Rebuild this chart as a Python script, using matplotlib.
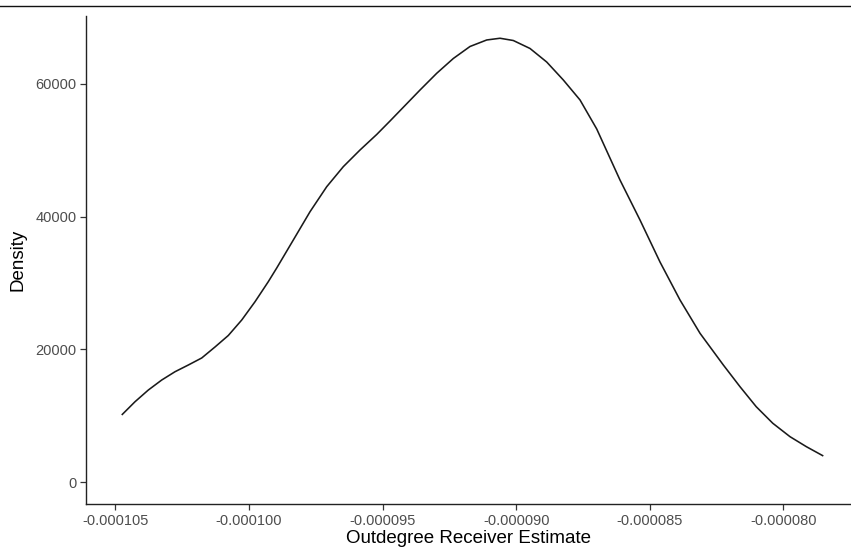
import matplotlib.pyplot as plt
from matplotlib.lines import Line2D

plt.rcParams['font.family'] = ['Liberation Sans', 'DejaVu Sans']

# kernel density estimate of the outdegree receiver coefficient
estimate = [-1.04764e-4, -1.04266e-4, -1.03769e-4, -1.03267e-4, -1.02769e-4,
            -1.02272e-4, -1.01770e-4, -1.01272e-4, -1.00775e-4, -1.00273e-4,
            -9.9775e-5, -9.9278e-5, -9.8963e-5, -9.8342e-5, -9.7717e-5,
            -9.7092e-5, -9.6471e-5, -9.5846e-5, -9.5221e-5, -9.4723e-5,
            -9.3600e-5, -9.2975e-5, -9.2354e-5, -9.1729e-5,
            -9.1104e-5, -9.0606e-5, -9.0109e-5, -8.9484e-5, -8.8859e-5,
            -8.8237e-5, -8.7612e-5, -8.6987e-5, -8.6116e-5, -8.5367e-5,
            -8.4618e-5, -8.3870e-5, -8.3121e-5, -8.2248e-5, -8.1624e-5,
            -8.1018e-5, -8.0397e-5, -7.9753e-5, -7.9139e-5, -7.8506e-5]
density = [10100, 12100, 13860, 15370, 16620,
           17630, 18690, 20350, 22080, 24410,
           27170, 30190, 32250, 36470, 40730,
           44500, 47520, 50030, 52370, 54400,
           59070, 61590, 63820, 65630,
           66610, 66870, 66530, 65330, 63290,
           60580, 57570, 53200, 45510, 39480,
           33150, 27430, 22410, 17630, 14360,
           11350, 8850, 6830, 5320, 3920]

x_ticks = [-0.000105, -0.000100, -0.000095, -0.000090, -0.000085, -0.000080]
x_labels = ['-0.000105', '-0.000100', '-0.000095', '-0.000090', '-0.000085', '-0.000080']
y_ticks = [0, 20000, 40000, 60000]

fig = plt.figure(figsize=(8.51, 5.51), dpi=100)
ax = fig.add_axes([0.1011, 0.0853, 0.8989, 0.8857])

ax.plot(estimate, density, color='#1a1a1a', lw=1.15,
        solid_joinstyle='round', solid_capstyle='butt')

ax.set_xlim(-1.0610e-4, -7.747e-5)
ax.set_ylim(-3315, 70226)
ax.set_xticks(x_ticks)
ax.set_xticklabels(x_labels)
ax.set_yticks(y_ticks)
ax.set_yticklabels([str(v) for v in y_ticks])

for side in ['top', 'right']:
    ax.spines[side].set_visible(False)
for side in ['left', 'bottom']:
    ax.spines[side].set_color('#222222')
    ax.spines[side].set_linewidth(1.0)
ax.tick_params(length=4, width=0.9, color='#333333', labelcolor='#4d4d4d',
               labelsize=10.5, pad=3)

ax.set_xlabel('Outdegree Receiver Estimate', fontsize=13.5, color='black', labelpad=2)
ax.set_ylabel('Density', fontsize=13.5, color='black', labelpad=6)

# thin rule across the top of the figure
fig.add_artist(Line2D([0, 1], [1 - 6 / 551, 1 - 6 / 551], transform=fig.transFigure,
                      color='#111111', lw=1.0))

fig.savefig('out.png', dpi=100)
